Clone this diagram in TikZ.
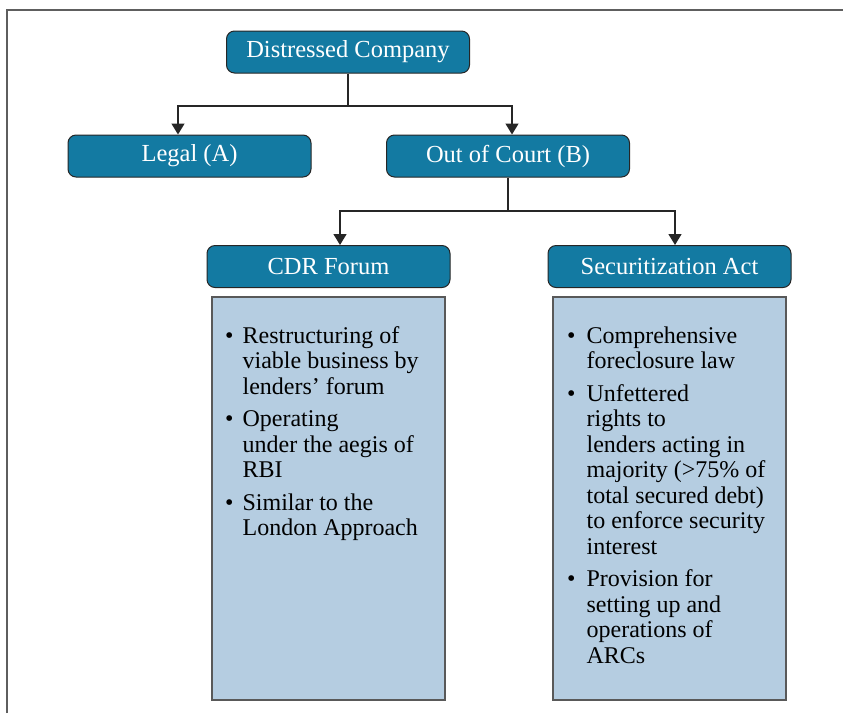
\documentclass[tikz,border=0pt]{standalone}
\usepackage{fontspec}
\setmainfont{Liberation Serif}
\usetikzlibrary{arrows.meta}

\definecolor{teal}{HTML}{137AA2}
\definecolor{paleblue}{HTML}{B5CDE1}
\definecolor{framegray}{HTML}{5E5E5E}

\begin{document}
\begin{tikzpicture}[x=1pt, y=-1pt,
	every node/.style={inner sep=0pt},
	head/.style={rectangle, rounded corners=8pt, draw=black!85, line width=1pt, fill=teal, text=white, minimum width=243pt, minimum height=42pt, font=\fontsize{24.5}{25.5}\selectfont},
	panel/.style={rectangle, draw=black!65, line width=1.2pt, fill=paleblue, minimum width=233pt, minimum height=403pt},
	points/.style={anchor=north west, align=left, font=\fontsize{24}{25.5}\selectfont},
	link/.style={draw=black!85, line width=1.4pt, -{Triangle[width=13pt,length=11pt]}}]
					\useasboundingbox (0,0) rectangle (843,713);
					\draw[framegray, line width=2pt] (7,713) -- (7,10) -- (843,10);
					
					\node[head] (dc) at (348,52){Distressed Company};
					\node[head] (legal) at (189.5,156){Legal (A)};
					\node[head] (court) at (508,156){Out of Court (B)};
					\node[head] (cdr) at (328.5,266.5){CDR Forum};
					\node[head] (sec) at (669.5,266.5){Securitization Act};
					
					\node[panel] (cdrbox) at (328.5,498.5){};
					\node[panel] (secbox) at (669.5,498.5){};
					
					\node[points] (cdrtext) at (225,325){\begin{tabular}{@{}l@{\hspace{9pt}}l@{}}
						\textbullet & Restructuring of\\
						 & viable business by\\
						 & lenders’ forum\\[7pt]
						\textbullet & Operating\\
						 & under the aegis of\\
						 & RBI\\[7pt]
						\textbullet & Similar to the\\
						 & London Approach
					\end{tabular}};
					\node[points] (sectext) at (567,325){\begin{tabular}{@{}l@{\hspace{11pt}}l@{}}
						\textbullet & Comprehensive\\
						 & foreclosure law\\[7pt]
						\textbullet & Unfettered\\
						 & rights to\\
						 & lenders acting in\\
						 & majority (>75\% of\\
						 & total secured debt)\\
						 & to enforce security\\
						 & interest\\[7pt]
						\textbullet & Provision for\\
						 & setting up and\\
						 & operations of\\
						 & ARCs
					\end{tabular}};
					
					\coordinate (fork1) at (348,106);
					\coordinate (fork2) at (508,211);
					\path[link] (dc.south) -- (fork1) -| ([xshift=-11.5pt]legal.north);
					\path[link] (fork1) -| ([xshift=4pt]court.north);
					\path[link] (court.south) -- (fork2) -| ([xshift=11.5pt]cdr.north);
					\path[link] (fork2) -| ([xshift=5.5pt]sec.north);
					\end{tikzpicture}
\end{document}
